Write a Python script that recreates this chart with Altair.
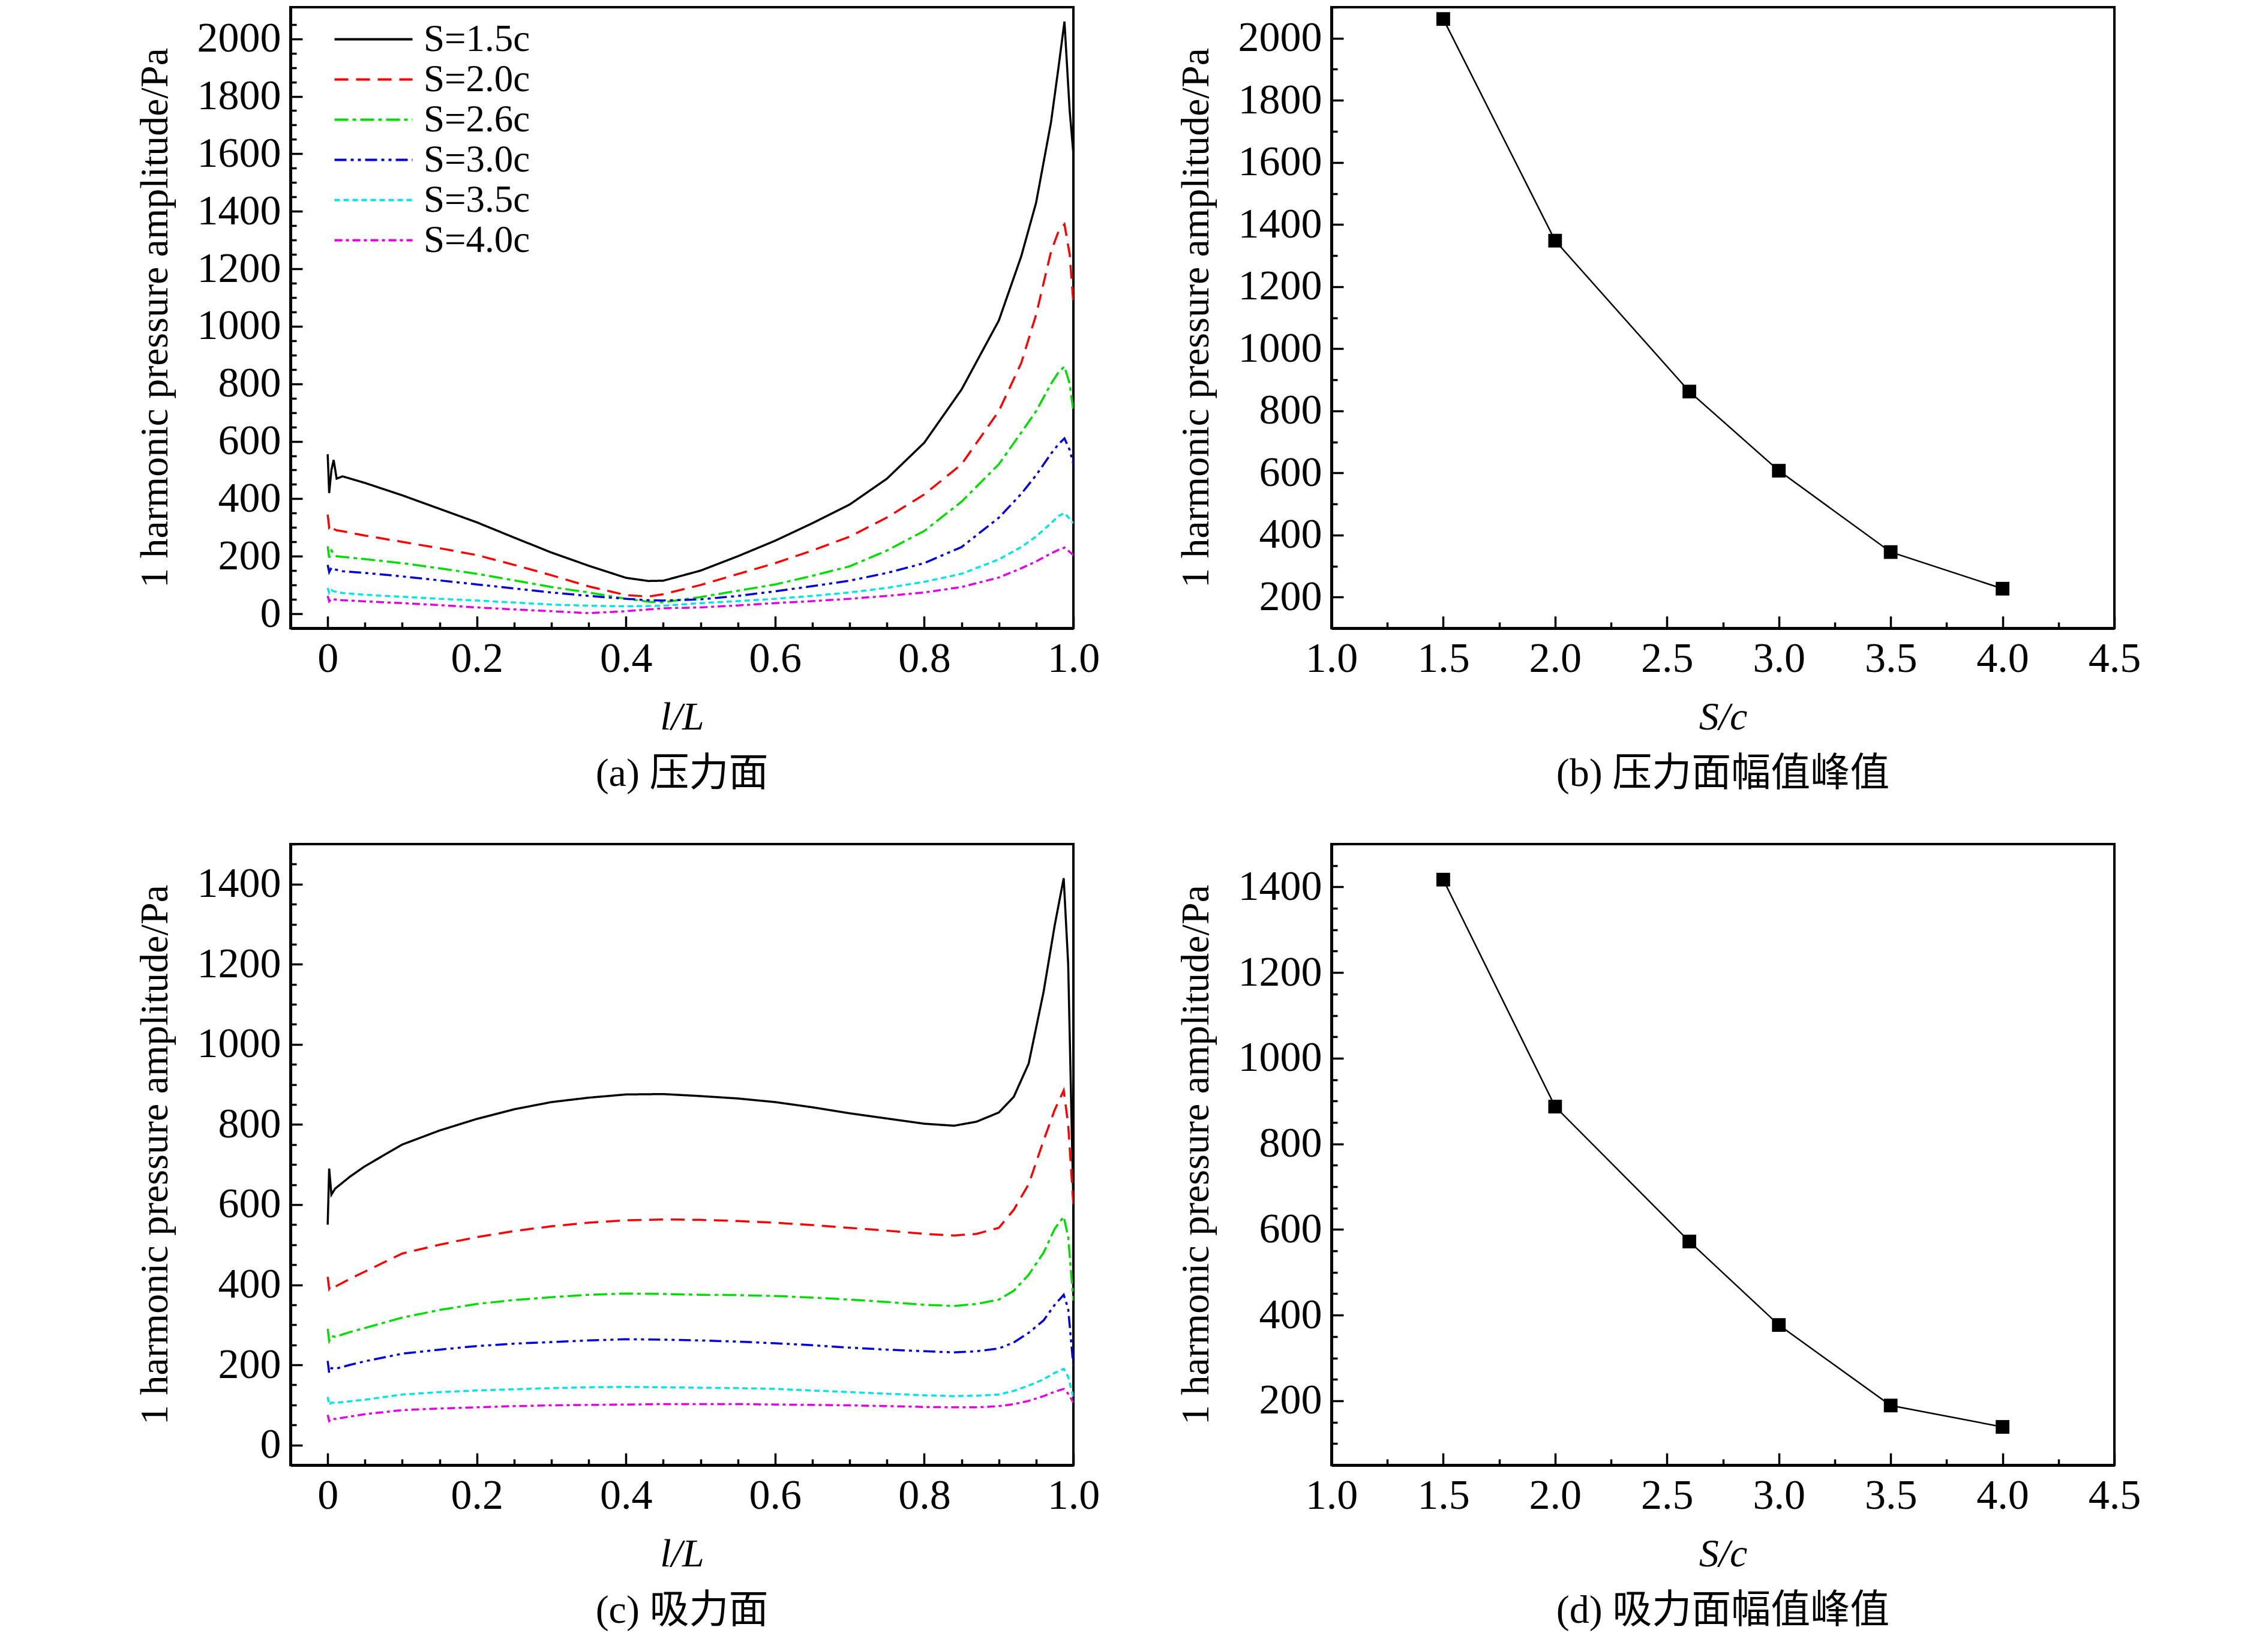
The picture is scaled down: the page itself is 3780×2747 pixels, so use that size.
import altair as alt
import pandas as pd

SERIES = ["S=1.5c", "S=2.0c", "S=2.6c", "S=3.0c", "S=3.5c", "S=4.0c"]
COLORS = ["#000000", "#FF0000", "#00DD00", "#0000DD", "#00E5E5", "#E600E6"]
DASHES = [[1, 0], [23, 13], [23, 7, 6, 7], [20, 7, 5, 7, 5, 7], [9, 6], [13, 6, 5, 6]]

# ---- panel (a): pressure side ----
XA = [0, 0.002, 0.005, 0.008, 0.012, 0.02, 0.05, 0.1, 0.15, 0.2, 0.25, 0.3, 0.35, 0.4, 0.43, 0.45,
      0.5, 0.55, 0.6, 0.65, 0.7, 0.75, 0.8, 0.85, 0.9, 0.93, 0.95, 0.97, 0.98, 0.988, 0.995, 1.0]
A_15 = [555, 420, 500, 535, 470, 478, 455, 412, 365, 318, 265, 213, 167, 125, 114, 115,
        150, 200, 254, 315, 380, 470, 595, 780, 1020, 1243, 1430, 1710, 1900, 2060, 1750, 1600]
A_20 = [345, 300, 310, 295, 290, 287, 272, 250, 228, 204, 170, 134, 95, 65, 60, 68,
        100, 138, 176, 220, 268, 335, 415, 520, 705, 872, 1040, 1260, 1330, 1355, 1250, 1080]
A_26 = [235, 195, 220, 210, 200, 198, 190, 176, 158, 139, 116, 93, 74, 52, 42, 40,
        58, 80, 102, 132, 165, 220, 288, 390, 520, 630, 705, 800, 840, 860, 800, 705]
A_30 = [170, 145, 160, 155, 153, 148, 142, 130, 116, 102, 88, 74, 62, 52, 47, 46,
        50, 62, 78, 96, 115, 142, 176, 232, 334, 417, 482, 557, 590, 610, 570, 520]
A_35 = [90, 72, 82, 78, 76, 72, 66, 59, 52, 46, 39, 32, 28, 26, 27, 28,
        37, 44, 52, 62, 74, 90, 111, 139, 189, 232, 269, 315, 340, 350, 330, 315]
A_40 = [62, 43, 52, 50, 49, 47, 43, 37, 30, 22, 15, 9, 2, 9, 15, 19,
        22, 29, 37, 44, 52, 62, 74, 93, 126, 158, 182, 210, 222, 230, 215, 204]

# ---- panel (c): suction side ----
XC = [0, 0.002, 0.005, 0.01, 0.03, 0.05, 0.1, 0.15, 0.2, 0.25, 0.3, 0.35, 0.4, 0.45, 0.5, 0.55,
      0.6, 0.65, 0.7, 0.75, 0.8, 0.84, 0.87, 0.9, 0.92, 0.94, 0.96, 0.975, 0.987, 0.993, 1.0]
C_15 = [550, 690, 625, 640, 670, 696, 750, 785, 814, 838, 856, 867, 875, 876, 871, 865,
        856, 843, 828, 815, 802, 797, 807, 830, 869, 952, 1131, 1298, 1415, 1200, 600]
C_20 = [420, 390, 400, 395, 415, 433, 478, 500, 519, 534, 546, 555, 561, 563, 562, 559,
        555, 549, 542, 535, 527, 523, 527, 542, 587, 651, 760, 837, 885, 800, 600]
C_26 = [290, 260, 272, 270, 282, 292, 318, 337, 352, 362, 369, 375, 378, 377, 375, 374,
        372, 368, 363, 357, 350, 347, 352, 363, 385, 425, 480, 540, 570, 520, 360]
C_30 = [210, 180, 192, 190, 200, 209, 228, 238, 247, 253, 257, 261, 264, 263, 261, 258,
        254, 249, 243, 238, 234, 231, 234, 241, 256, 280, 311, 350, 375, 340, 196]
C_35 = [120, 100, 106, 105, 109, 113, 126, 132, 136, 139, 142, 144, 145, 144, 143, 142,
        140, 136, 132, 128, 124, 122, 123, 126, 135, 148, 164, 180, 190, 170, 119]
C_40 = [75, 60, 66, 65, 71, 77, 87, 91, 94, 97, 99, 100, 101, 102, 102, 102,
        101, 100, 99, 97, 95, 94, 94, 97, 102, 110, 122, 133, 140, 128, 106]

# ---- panels (b), (d): peak values ----
SC = [1.5, 2.0, 2.6, 3.0, 3.5, 4.0]
PEAK_A = [2062, 1348, 862, 607, 345, 227]
PEAK_C = [1417, 887, 572, 377, 189, 139]

FONT = "Liberation Serif, Noto Sans CJK SC"
W, H = 1305, 1035
MAJ, MIN = 20, 10


def long_df(xs, cols):
    rows = []
    for name, vals in zip(SERIES, cols):
        for i, (x, y) in enumerate(zip(xs, vals)):
            rows.append({"x": x, "y": y, "s": name, "o": i})
    return pd.DataFrame(rows)


def tick_axis(orient, values, size):
    return alt.Axis(orient=orient, values=values, labels=False, domain=False, ticks=True,
                    tickSize=size, offset=-size, tickWidth=3.5, tickColor="black",
                    title=None, grid=False)


def frange(a, b, step):
    out, v = [], a
    while v <= b + 1e-9:
        out.append(round(v, 4))
        v += step
    return out


def panel(df, xdom, ydom, xmaj, xmin, ymaj, ymin, xtitle, caption, xfmt_expr, kind):
    xs = alt.Scale(domain=xdom, nice=False, zero=False)
    ys = alt.Scale(domain=ydom, nice=False, zero=False)
    xmain = alt.Axis(orient="bottom", values=xmaj, labelExpr=xfmt_expr, title=xtitle,
                     ticks=False, domain=True, domainWidth=5, domainColor="black",
                     labelPadding=17, titlePadding=30, titleFontStyle="italic", grid=False,
                     labelFlush=False)
    ymain = alt.Axis(orient="left", values=ymaj, format="d",
                     title="1 harmonic pressure amplitude/Pa",
                     ticks=False, domain=True, domainWidth=5, domainColor="black",
                     labelPadding=16, titlePadding=36, grid=False, labelFlush=False)
    base = alt.Chart(df)
    if kind == "lines":
        main = base.mark_line(strokeWidth=3.5, clip=True).encode(
            x=alt.X("x:Q", scale=xs, axis=xmain),
            y=alt.Y("y:Q", scale=ys, axis=ymain),
            order="o:Q",
            color=alt.Color("s:N", scale=alt.Scale(domain=SERIES, range=COLORS),
                            legend=alt.Legend(title=None)),
            strokeDash=alt.StrokeDash("s:N", scale=alt.Scale(domain=SERIES, range=DASHES),
                                      legend=alt.Legend(title=None)),
        )
        layers = [main]
    else:
        ln = base.mark_line(strokeWidth=2.5, color="black", clip=True).encode(
            x=alt.X("x:Q", scale=xs, axis=xmain),
            y=alt.Y("y:Q", scale=ys, axis=ymain),
        )
        pt = base.mark_point(shape="square", filled=True, size=520, color="black",
                             opacity=1, clip=True).encode(
            x=alt.X("x:Q", scale=xs, axis=None),
            y=alt.Y("y:Q", scale=ys, axis=None),
        )
        layers = [ln, pt]
    ghost = base.mark_line(opacity=0)
    layers += [
        ghost.encode(x=alt.X("x:Q", scale=xs, axis=tick_axis("bottom", xmaj, MAJ)),
                     y=alt.Y("y:Q", scale=ys, axis=None)),
        ghost.encode(x=alt.X("x:Q", scale=xs, axis=tick_axis("bottom", xmin, MIN)),
                     y=alt.Y("y:Q", scale=ys, axis=None)),
        ghost.encode(x=alt.X("x:Q", scale=xs, axis=None),
                     y=alt.Y("y:Q", scale=ys, axis=tick_axis("left", ymaj, MAJ))),
        ghost.encode(x=alt.X("x:Q", scale=xs, axis=None),
                     y=alt.Y("y:Q", scale=ys, axis=tick_axis("left", ymin, MIN))),
    ]
    return alt.layer(*layers).resolve_axis(x="independent", y="independent").properties(
        width=W, height=H,
        title=alt.TitleParams(caption, orient="bottom", anchor="middle", fontSize=66,
                              font=FONT, fontWeight="normal", color="black", offset=30),
    )


lx = "datum.value == 0 ? '0' : format(datum.value, '.1f')"
sx = "format(datum.value, '.1f')"

df_a = long_df(XA, [A_15, A_20, A_26, A_30, A_35, A_40])
df_c = long_df(XC, [C_15, C_20, C_26, C_30, C_35, C_40])
df_b = pd.DataFrame({"x": SC, "y": PEAK_A})
df_d = pd.DataFrame({"x": SC, "y": PEAK_C})

xl_maj = frange(0, 1.0, 0.2)
xl_min = [v for v in frange(0, 1.0, 0.05) if v not in xl_maj]
xs_maj = frange(1.0, 4.5, 0.5)
xs_min = [v for v in frange(1.0, 4.5, 0.25) if v not in xs_maj]

pa = panel(df_a, [-0.05, 1.0], [-50, 2110], xl_maj, xl_min,
           frange(0, 2000, 200), [v for v in frange(0, 2050, 50) if v % 200 != 0],
           "l/L", "(a) 压力面", lx, "lines")
pb = panel(df_b, [1.0, 4.5], [100, 2100], xs_maj, xs_min,
           frange(200, 2000, 200), [v for v in frange(100, 2100, 100) if v % 200 != 0],
           "S/c", "(b) 压力面幅值峰值", sx, "points")
pc = panel(df_c, [-0.05, 1.0], [-50, 1500], xl_maj, xl_min,
           frange(0, 1400, 200), [v for v in frange(0, 1500, 50) if v % 200 != 0],
           "l/L", "(c) 吸力面", lx, "lines")
pd_ = panel(df_d, [1.0, 4.5], [50, 1500], xs_maj, xs_min,
            frange(200, 1400, 200), [v for v in frange(50, 1500, 50) if v % 200 != 0],
            "S/c", "(d) 吸力面幅值峰值", sx, "points")

chart = alt.concat(pa, pb, pc, pd_, columns=2, spacing={"row": 78, "column": 123}).properties(
    padding={"left": 215, "top": 0, "right": 5, "bottom": 5},
).configure_view(
    stroke="black", strokeWidth=4
).configure_axis(
    labelFont=FONT, titleFont=FONT, labelFontSize=70, titleFontSize=66,
    labelColor="black", titleColor="black", titleFontWeight="normal",
).configure_legend(
    orient="none", legendX=55, legendY=22, symbolType="M-5.2,0H5.2", symbolSize=625,
    symbolStrokeWidth=4, labelFont=FONT, labelFontSize=63, labelColor="black",
    rowPadding=3, labelOffset=52, padding=0, symbolOffset=52, labelLimit=0,
)

chart.save("out.html", embed_options={"renderer": "svg", "actions": False})
